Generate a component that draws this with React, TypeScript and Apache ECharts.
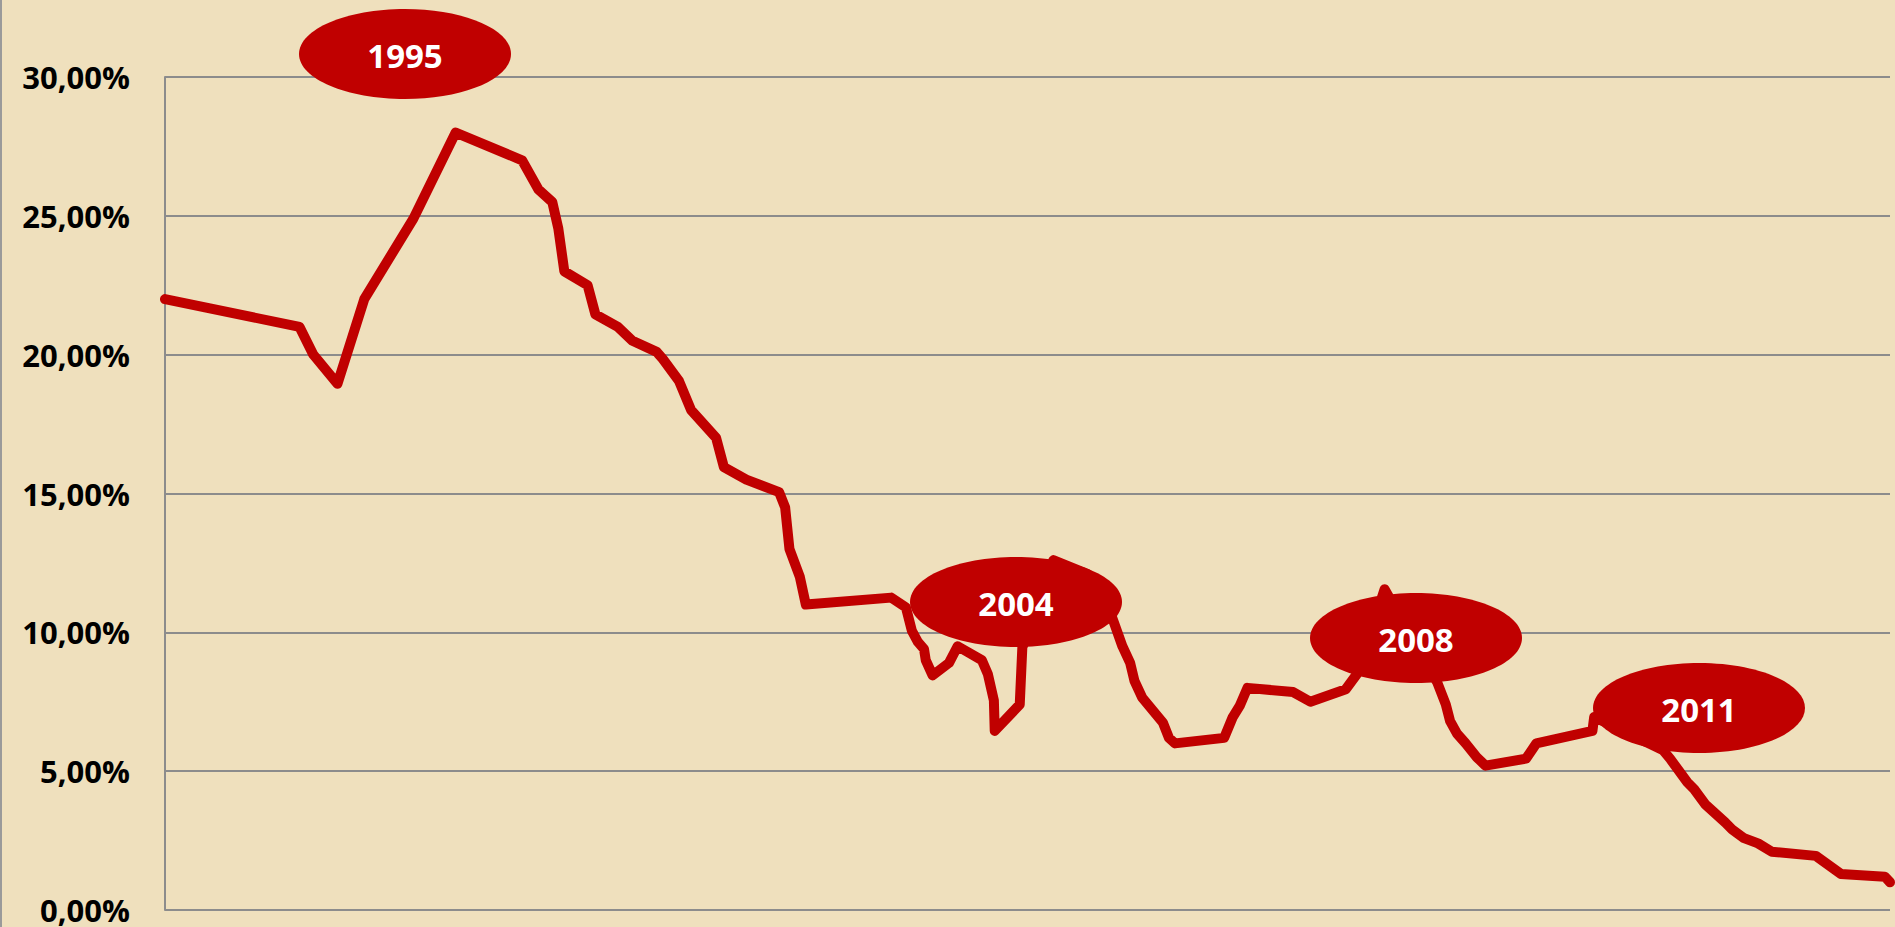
import React, { useEffect, useRef } from "react";
import * as echarts from "echarts";

// Estimated dates (decimal years) and rates (%)
const dates = [
  1993.0, 1994.56, 1994.72, 1995.0, 1995.31, 1995.88, 1996.37, 1997.14, 1997.33, 1997.49,
  1997.56, 1997.63, 1997.9, 1997.99, 1998.25, 1998.42, 1998.7, 1998.77, 1998.96, 1999.1,
  1999.39, 1999.48, 1999.74, 2000.12, 2000.19, 2000.24, 2000.36, 2000.43, 2001.42, 2001.59,
  2001.66, 2001.73, 2001.8, 2001.82, 2001.9, 2002.09, 2002.19, 2002.47, 2002.54, 2002.61,
  2002.62, 2002.91, 2002.94, 2003.3, 2003.7, 2003.98, 2004.1, 2004.19, 2004.24, 2004.33,
  2004.57, 2004.64, 2004.71, 2005.28, 2005.38, 2005.46, 2005.55, 2006.08, 2006.28, 2006.69,
  2006.82, 2007.14, 2007.75, 2007.85, 2007.9, 2007.98, 2008.08, 2008.21, 2008.31, 2008.78,
  2008.9, 2009.55, 2009.57, 2010.37, 2010.45, 2010.65, 2010.73, 2010.86, 2011.09, 2011.17,
  2011.3, 2011.47, 2011.63, 2012.14, 2012.43, 2012.94, 2013.0,
];

const rates = [
  22.0, 21.0, 20.0, 18.95, 22.0, 24.9, 28.0, 27.0, 25.95, 25.5,
  24.55, 23.0, 22.5, 21.45, 21.0, 20.5, 20.1, 19.85, 19.05, 18.0,
  17.0, 15.95, 15.5, 15.05, 14.5, 13.0, 12.0, 11.0, 11.25, 10.9,
  10.05, 9.65, 9.4, 9.0, 8.45, 8.9, 9.5, 9.0, 8.5, 7.55,
  6.45, 7.4, 9.45, 12.6, 12.1, 10.55, 9.5, 8.9, 8.25, 7.65,
  6.75, 6.2, 6.0, 6.2, 6.95, 7.35, 8.0, 7.85, 7.5, 7.95,
  8.5, 11.55, 8.2, 7.4, 6.8, 6.35, 6.0, 5.5, 5.2, 5.45,
  6.0, 6.45, 6.95, 5.75, 5.45, 4.6, 4.35, 3.8, 3.15, 2.9,
  2.6, 2.4, 2.1, 1.95, 1.3, 1.2, 1.0,
];

const yTicks = { min: 0, max: 30, interval: 5 };

const bubbleLabels = ["1995", "2004", "2008", "2011"];

// layout of the annotation bubbles (pixels)
const bubbleLayout = [
  { cx: 405, cy: 54 },
  { cx: 1016, cy: 602 },
  { cx: 1416, cy: 638 },
  { cx: 1699, cy: 708 },
];

const RED = "#C00000";
const FONT = "'Open Sans', 'Liberation Sans', sans-serif";

export default function App() {
  const ref = useRef<HTMLDivElement>(null);

  useEffect(() => {
    document.body.style.margin = "0";
    const chart = echarts.init(ref.current!, null, { renderer: "svg" });

    const seriesData = dates.map((d, i) => [d, rates[i]]);

    const bubbles = bubbleLabels.map((label, i) => ({
      type: "group",
      children: [
        {
          type: "ellipse",
          shape: { cx: bubbleLayout[i].cx, cy: bubbleLayout[i].cy, rx: 106, ry: 45 },
          style: { fill: RED },
          z: 100,
        },
        {
          type: "text",
          x: bubbleLayout[i].cx,
          y: bubbleLayout[i].cy + 1,
          style: {
            text: label,
            fill: "#FFFFFF",
            font: `bold 33px ${FONT}`,
            textAlign: "center",
            textVerticalAlign: "middle",
          },
          z: 101,
        },
      ],
    }));

    chart.setOption({
      animation: false,
      backgroundColor: "#EFE0BD",
      grid: { left: 165, right: 5, top: 77, bottom: 17, containLabel: false },
      xAxis: {
        type: "value",
        min: 1993,
        max: 2013,
        axisLine: { show: false },
        axisTick: { show: false },
        axisLabel: { show: false },
        splitLine: { show: false },
      },
      yAxis: {
        type: "value",
        min: yTicks.min,
        max: yTicks.max,
        interval: yTicks.interval,
        axisLine: { show: true, lineStyle: { color: "#8C8C8C", width: 2 } },
        axisTick: { show: false },
        axisLabel: {
          margin: 35,
          color: "#000000",
          fontWeight: "bold",
          fontSize: 31,
          fontFamily: FONT,
          formatter: (v: number) => v.toFixed(2).replace(".", ",") + "%",
        },
        splitLine: { show: true, lineStyle: { color: "#8C8C8C", width: 2 } },
      },
      series: [
        {
          type: "line",
          data: seriesData,
          showSymbol: false,
          symbol: "none",
          clip: false,
          lineStyle: { color: RED, width: 10, join: "round", cap: "round" },
          z: 10,
        },
      ],
      graphic: [
        {
          type: "line",
          shape: { x1: 1, y1: 0, x2: 1, y2: 927 },
          style: { stroke: "#9A9A9A", lineWidth: 2 },
        },
        ...bubbles,
      ],
    });

    return () => chart.dispose();
  }, []);

  return <div ref={ref} style={{ width: 1895, height: 927 }} />;
}
